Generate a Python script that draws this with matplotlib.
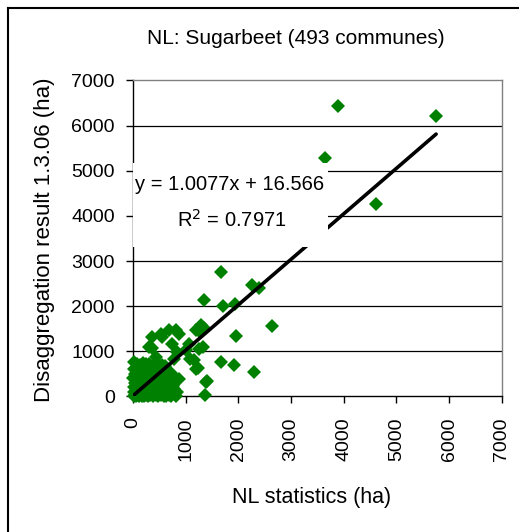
import matplotlib
matplotlib.use("Agg")
import matplotlib.pyplot as plt
from matplotlib.patches import Rectangle
import numpy as np

plt.rcParams['font.family'] = ['Liberation Sans', 'DejaVu Sans']

# outlying communes (NL statistics, disaggregation result) in ha
x_out = [3891, 5752, 3638, 4604, 1670, 2254, 2400, 1339, 1708, 1943, 2641, 1949,
         1257, 1340, 1320, 1670, 1918, 2299, 1225, 1397, 1371, 844, 1080, 1003,
         1067, 686, 864, 559, 368, 356, 432, 844, 749, 1194, 1289, 527, 1257,
         1194, 1384, 876, 813, 813, 781, 305, 1162]
y_out = [6429, 6207, 5289, 4267, 2762, 2467, 2393, 2148, 2007, 2059, 1562, 1340,
         1452, 1526, 1096, 763, 704, 548, 637, 333, 44, 96, 822, 1022,
         1170, 1467, 1393, 1319, 1319, 1082, 874, 985, 1170, 1467, 1578, 1393, 1060,
         615, 319, 393, 1467, 0, 837, 1096, 800]

# dense cluster of small communes near the origin
x_blob = [10, 30, 55, 80, 110, 140, 170, 200, 240, 280, 330, 380, 430, 480, 530,
          580, 630, 680, 730,
          25, 75, 135, 195, 255, 315, 375, 445, 505, 565, 625, 695, 781,
          15, 60, 110, 170, 230, 290, 350, 410, 470, 530, 590, 650, 710, 760,
          35, 90, 150, 210, 270, 330, 390, 450, 510, 570, 630, 690, 750,
          5, 50, 100, 160, 220, 280, 340, 400, 460, 520, 580, 640, 700, 750,
          30, 85, 145, 205, 265, 325, 385, 445, 505, 565, 625, 685, 740,
          10, 60, 120, 180, 240, 300, 360, 420, 480, 540, 600, 660, 720,
          20, 70, 130, 190, 250, 310, 370, 430, 490, 550, 600]
y_blob = [15, 40, 5, 30, 10, 45, 20, 5, 35, 15, 25, 0, 40, 10, 30,
          5, 20, 35, 10,
          110, 90, 120, 100, 80, 130, 95, 115, 85, 125, 100, 90, 170,
          210, 180, 230, 170, 220, 190, 240, 175, 215, 185, 230, 200, 170, 240,
          300, 320, 280, 310, 290, 330, 300, 280, 320, 300, 290, 310, 300,
          420, 380, 440, 390, 410, 370, 430, 400, 380, 420, 390, 410, 380, 400,
          500, 520, 490, 510, 480, 520, 500, 490, 510, 480, 500, 470, 480,
          610, 580, 640, 600, 590, 630, 580, 610, 600, 570, 590, 560, 520,
          763, 720, 700, 740, 710, 730, 700, 720, 690, 700, 680]

slope = 1.0077
intercept = 16.566
r2 = 0.7971

x_all = np.array(x_blob + x_out)
y_all = np.array(y_blob + y_out)

fig = plt.figure(figsize=(5.19, 5.32), dpi=100)
ax = fig.add_axes([0.2563, 0.2547, 0.7107, 0.594])

green = '#008000'
ax.plot(x_all, y_all, linestyle='none', marker='D', markersize=7.0,
        color=green, markeredgewidth=0, zorder=3, clip_on=False)

xl = np.array([0, x_all.max()])
ax.plot(xl, slope * xl + intercept, color='black', linewidth=2.6,
        solid_capstyle='round', zorder=4)

ax.set_xlim(0, 7000)
ax.set_ylim(0, 7000)
ticks = np.arange(0, 7001, 1000)
ax.set_xticks(ticks)
ax.set_yticks(ticks)
ax.set_xticklabels([str(t) for t in ticks], rotation=90, fontsize=14)
ax.set_yticklabels([str(t) for t in ticks], fontsize=14)
ax.tick_params(direction='out', length=5, width=1, color='black')
ax.tick_params(axis='x', pad=10)
ax.tick_params(axis='y', pad=8)

for yv in ticks[1:-1]:
    ax.axhline(yv, color='black', linewidth=0.9, zorder=1)

ax.spines['left'].set_color('black')
ax.spines['bottom'].set_color('black')
ax.spines['left'].set_linewidth(1.0)
ax.spines['bottom'].set_linewidth(1.0)
ax.spines['top'].set_color('#808080')
ax.spines['right'].set_color('#808080')
ax.spines['top'].set_linewidth(1.0)
ax.spines['right'].set_linewidth(1.0)

# white label box of the trendline
ax.add_patch(Rectangle((0, 3311), 3695, 1867, facecolor='white',
                       edgecolor='none', zorder=5, clip_on=False))
ax.text(1830, 4580, f"y = {slope}x + {intercept}", ha='center', va='baseline',
        fontsize=14.5, zorder=6)
ax.text(1867, 3765, f"R$^2$ = {r2}", ha='center', va='baseline',
        fontsize=14.5, zorder=6)

fig.text(296 / 519, 1 - 44 / 532, "NL: Sugarbeet (493 communes)",
         ha='center', va='baseline', fontsize=15)
fig.text(312 / 519, 1 - 503 / 532, "NL statistics (ha)",
         ha='center', va='baseline', fontsize=15.5)
fig.text(45 / 519, 1 - 240 / 532, "Disaggregation result 1.3.06 (ha)",
         ha='center', va='center', rotation=90, fontsize=16)

# outer chart border (only left and top fall inside the picture)
fig.add_artist(plt.Line2D([8 / 519, 8 / 519], [0, 1 - 8 / 532],
                          transform=fig.transFigure, color='black', linewidth=1.5))
fig.add_artist(plt.Line2D([8 / 519, 1], [1 - 8 / 532, 1 - 8 / 532],
                          transform=fig.transFigure, color='black', linewidth=1.5))

fig.savefig("out.png", dpi=100)
